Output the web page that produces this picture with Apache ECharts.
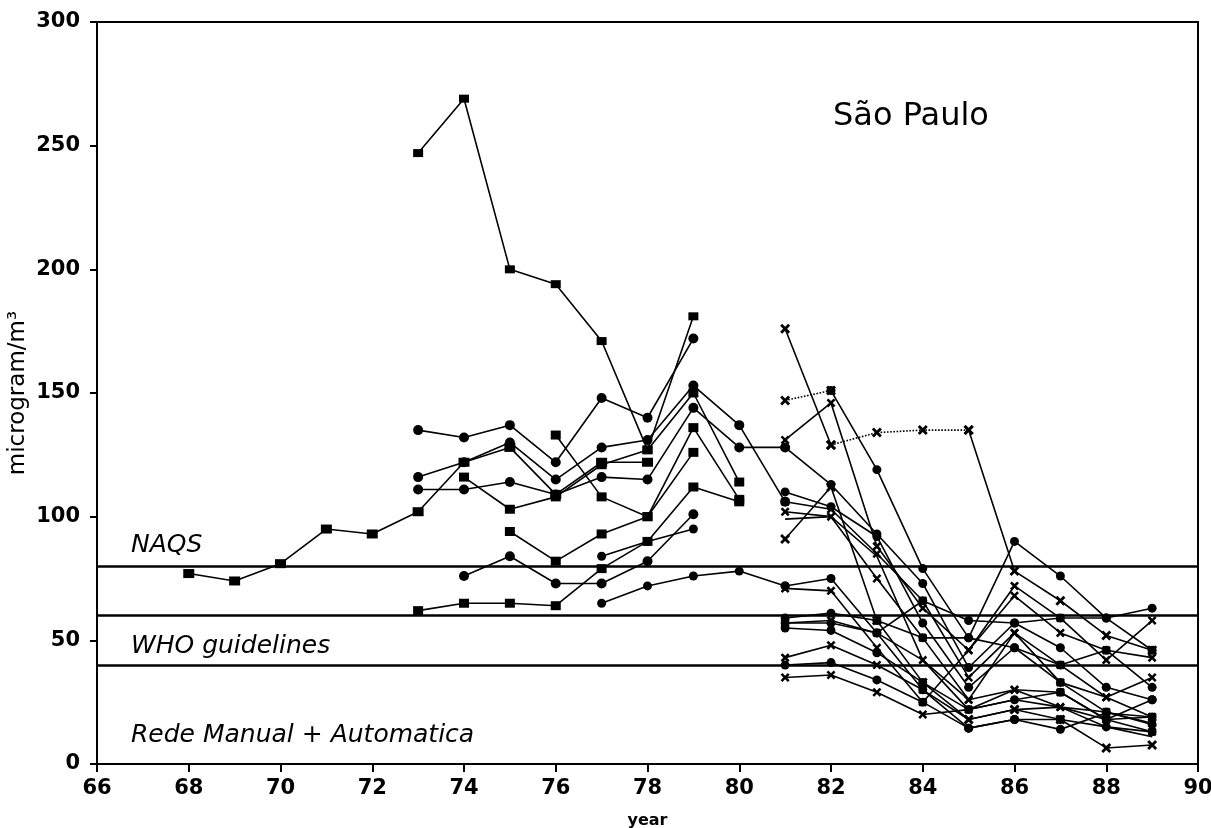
<!DOCTYPE html>
<html>
<head>
<meta charset="utf-8">
<script src="https://cdn.jsdelivr.net/npm/echarts@6/dist/echarts.min.js"></script>
<style>
  html, body { margin: 0; padding: 0; background: #fff; }
  #chart { width: 1211px; height: 828px; }
</style>
</head>
<body>
<div id="chart"></div>
<script>
  // years for the three groups of stations
  var yearsLong = [68, 69, 70, 71, 72, 73, 74, 75, 76, 77, 78]
  var yearsEarly = [73, 74, 75, 76, 77, 78, 79, 80, 81]
  var yearsLate = [81, 82, 83, 84, 85, 86, 87, 88, 89]

  var guideLevels = [80, 60, 40] // NAQS, WHO upper, WHO lower

  // Rede Manual (73 - 81)
  var longSq = [77, 74, 81, 95, 93, 102, 122, 128, 109, 122, 122]
  var e1 = [247, 269, 200, 194, 171, 127, 181, null, null]
  var e2 = [135, 132, 137, 122, 148, 140, 172, null, null]
  var e3 = [116, 122, 130, 115, 128, 131, 153, 137, 106]
  var e4 = [111, 111, 114, 109, 116, 115, 144, 128, 128]
  var e5 = [null, 116, 103, 108, 121, 127, 150, 114, null]
  var e6 = [null, null, 94, 82, 93, 100, 136, 107, null]
  var e7 = [null, null, null, 133, 108, 100, 126, null, null]
  var e8 = [null, 76, 84, 73, 73, 82, 101, null, null]
  var e9 = [62, 65, 65, 64, 79, 90, 112, 106, null]
  var e10 = [null, null, null, null, 65, 72, 76, 78, 72]
  var e11 = [null, null, null, null, 84, 90, 95, null, null]

  // Rede Automatica (81 - 89)
  var l1a = [176, 129, null, null, null, null, null, null, null]
  var l1b = [null, 129, 134, 135, 135, null, null, null, null] // dotted
  var l1c = [null, null, null, null, 135, 78, 66, 52, 46]
  var l2a = [147, 151, null, null, null, null, null, null, null] // dotted
  var l2b = [null, 151, 119, 79, 51, 90, 76, 59, 63]
  var l3 = [131, 146, 88, 63, 46, 72, 59, 42, 58]
  var l4 = [128, 113, 93, 73, 39, 57, 47, 31, 26]
  var l5 = [106, 103, 85, 66, 35, 53, 40, 27, 19]
  var l6 = [110, 104, 92, 57, 31, 47, 33, 21, 16]
  var l7 = [102, 100, 75, 51, 26, 30, 29, 18, 13]
  var l8 = [99, 100, 84, 42, 22, 26, 23, 15, 11]
  var l9 = [91, 112, 58, 33, 18, 22, 18, 6.5, 7.7]
  var l10 = [72, 75, 53, 30, 14.5, 18, 14, 20.6, 19]
  var l11 = [71, 70, 47, 25, 46, 68, 53, 46, 43]
  var l12 = [59, 61, 58, 51, 51, 47, 40, 46, 31]
  var l13 = [57, 58, 53, 42, 26, 53, 33, 27, 35]
  var l14 = [55, 54, 45, 33, 22, 26, 29, 18, 26]
  var l15 = [43, 48, 40, 30, 18, 22, 23, 21, 16.5]
  var l16 = [40, 41, 34, 25, 14.5, 18, 18, 15, 13]
  var l17 = [35, 36, 29, 20, 22, 30, 23, 18, 19]
  var l18 = [57, 57, 53, 66, 58, 57, 59, 59, 46]

  var cross = 'path://M0,2 L2,0 L5,3 L8,0 L10,2 L7,5 L10,8 L8,10 L5,7 L2,10 L0,8 L3,5 Z'
  var font = 'DejaVu Sans'

  function pairs(years, vals) {
    return years.map(function(y, i) { return [y, vals[i]] })
  }

  function line(years, vals, symbol, size, dotted) {
    return {
      type: 'line',
      data: pairs(years, vals),
      symbol: symbol,
      symbolSize: size,
      showSymbol: true,
      connectNulls: false,
      animation: false,
      itemStyle: { color: '#000' },
      lineStyle: { color: '#000', width: 1.6, type: dotted ? 'dotted' : 'solid' },
      z: 3
    }
  }

  var series = [
    line(yearsLong, longSq, 'rect', [11, 9]),
    line(yearsEarly, e1, 'rect', [10, 8]),
    line(yearsEarly, e2, 'circle', 10),
    line(yearsEarly, e3, 'circle', 10),
    line(yearsEarly, e4, 'circle', 10),
    line(yearsEarly, e5, 'rect', [10, 9]),
    line(yearsEarly, e6, 'rect', [10, 9]),
    line(yearsEarly, e7, 'rect', [10, 9]),
    line(yearsEarly, e8, 'circle', 10),
    line(yearsEarly, e9, 'rect', [10, 9]),
    line(yearsEarly, e10, 'circle', 9),
    line(yearsEarly, e11, 'circle', 9),
    line(yearsLate, l1a, cross, 10),
    line(yearsLate, l1b, cross, 10, true),
    line(yearsLate, l1c, cross, 10),
    line(yearsLate, l2a, cross, 10, true),
    line(yearsLate, l2b, 'circle', 9),
    line(yearsLate, l3, cross, 9),
    line(yearsLate, l4, 'circle', 9),
    line(yearsLate, l5, cross, 9),
    line(yearsLate, l6, 'circle', 9),
    line(yearsLate, l7, cross, 9),
    line(yearsLate, l8, 'none', 0),
    line(yearsLate, l9, cross, 10),
    line(yearsLate, l10, 'circle', 9),
    line(yearsLate, l11, cross, 9),
    line(yearsLate, l12, 'circle', 9),
    line(yearsLate, l13, cross, 9),
    line(yearsLate, l14, 'circle', 9),
    line(yearsLate, l15, cross, 9),
    line(yearsLate, l16, 'circle', 9),
    line(yearsLate, l17, cross, 9),
    line(yearsLate, l18, 'circle', 9)
  ]

  // guideline lines
  series.push({
    type: 'line',
    data: [],
    animation: false,
    markLine: {
      silent: true,
      symbol: ['none', 'none'],
      label: { show: false },
      lineStyle: { color: '#000', width: 2.5, type: 'solid' },
      data: guideLevels.map(function(v) { return { yAxis: v } })
    }
  })

  var chart = echarts.init(document.getElementById('chart'))
  var option = {
    backgroundColor: '#fff',
    animation: false,
    grid: {
      left: 97, right: 13, top: 22, bottom: 64,
      containLabel: false,
      outerBoundsMode: 'none',
      show: true, borderColor: '#000', borderWidth: 2
    },
    xAxis: {
      type: 'value',
      min: 66, max: 90, interval: 2,
      name: 'year',
      nameLocation: 'middle',
      nameGap: 49,
      nameTextStyle: { fontFamily: font, fontSize: 16, fontWeight: 'bold', color: '#000' },
      axisLine: { lineStyle: { color: '#000', width: 2 } },
      axisTick: { inside: false, length: 8, lineStyle: { color: '#000', width: 2 } },
      axisLabel: { fontFamily: font, fontSize: 21, fontWeight: 'bold', color: '#000', margin: 14 },
      splitLine: { show: false }
    },
    yAxis: {
      type: 'value',
      min: 0, max: 300, interval: 50,
      name: 'microgram/m³',
      nameLocation: 'middle',
      nameGap: 67,
      nameMoveOverlap: false,
      nameTextStyle: { fontFamily: font, fontSize: 23, color: '#000' },
      axisLine: { show: true, lineStyle: { color: '#000', width: 2 } },
      axisTick: { show: true, length: 7, lineStyle: { color: '#000', width: 2 } },
      axisLabel: { fontFamily: font, fontSize: 21, fontWeight: 'bold', color: '#000', margin: 17 },
      splitLine: { show: false }
    },
    graphic: [
      { type: 'text', left: 833, top: 101, style: { text: 'São Paulo', font: '32px "DejaVu Sans"', fill: '#000' } },
      { type: 'text', left: 131, top: 533, style: { text: 'NAQS', font: 'italic 25px "DejaVu Sans"', fill: '#000' } },
      { type: 'text', left: 131, top: 634, style: { text: 'WHO guidelines', font: 'italic 25px "DejaVu Sans"', fill: '#000' } },
      { type: 'text', left: 131, top: 723, style: { text: 'Rede Manual + Automatica', font: 'italic 25px "DejaVu Sans"', fill: '#000' } }
    ],
    series: series
  }
  chart.setOption(option)
</script>
</body>
</html>
